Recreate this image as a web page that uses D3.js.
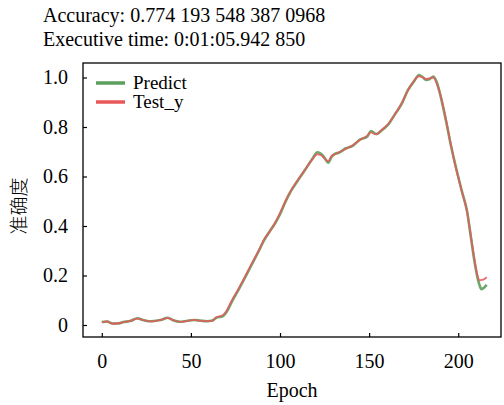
<!DOCTYPE html>
<html>
<head>
<meta charset="utf-8">
<script src="https://cdn.jsdelivr.net/npm/d3@7"></script>
<style>
    body { margin: 0; background: #fff; }
    #chart { width: 504px; height: 405px; }
</style>
</head>
<body>
<div id="chart"></div>
<script>

// data
let epochs = [0, 3, 6, 9, 12, 16, 20, 23, 27, 30, 33, 37, 40, 44, 48, 52, 55, 59, 62, 64, 68, 70, 73, 77, 81, 85, 88, 91, 94, 97,
    100, 103, 106, 110, 114, 118, 121, 123, 125, 127, 129, 131, 133, 137, 141, 145, 149, 151, 154, 157, 161, 164, 168, 172, 175, 178,
    180, 182, 184, 186, 188, 190, 193, 196, 199, 202, 205, 207, 209, 211, 212, 213, 214, 216];

let testY = [0.010, 0.015, 0.005, 0.007, 0.011, 0.017, 0.026, 0.021, 0.015, 0.016, 0.021, 0.028, 0.020, 0.013, 0.016, 0.021, 0.017, 0.016, 0.017, 0.030,
    0.040, 0.058, 0.100, 0.150, 0.205, 0.260, 0.300, 0.345, 0.375, 0.410, 0.452, 0.500, 0.542, 0.586, 0.627, 0.668, 0.690, 0.686, 0.672, 0.662,
    0.684, 0.690, 0.698, 0.712, 0.727, 0.748, 0.765, 0.778, 0.770, 0.788, 0.815, 0.845, 0.893, 0.950, 0.985, 1.005, 1.000, 0.994, 0.996, 1.000,
    0.975, 0.930, 0.835, 0.725, 0.625, 0.540, 0.455, 0.365, 0.270, 0.195, 0.180, 0.182, 0.183, 0.193];

let predict = [0.012, 0.014, 0.006, 0.006, 0.012, 0.016, 0.027, 0.020, 0.015, 0.017, 0.020, 0.029, 0.019, 0.013, 0.017, 0.020, 0.018, 0.015, 0.018, 0.028,
    0.036, 0.052, 0.094, 0.146, 0.200, 0.256, 0.298, 0.342, 0.376, 0.408, 0.448, 0.497, 0.540, 0.584, 0.626, 0.670, 0.698, 0.692, 0.676, 0.656,
    0.680, 0.692, 0.696, 0.714, 0.725, 0.750, 0.762, 0.784, 0.772, 0.786, 0.812, 0.846, 0.890, 0.952, 0.982, 1.010, 1.002, 0.990, 0.994, 1.004,
    0.980, 0.928, 0.830, 0.722, 0.628, 0.542, 0.458, 0.360, 0.262, 0.185, 0.160, 0.145, 0.148, 0.162];

let yTicks = [0, 0.2, 0.4, 0.6, 0.8, 1.0];
let yTickLabels = ["0", "0.2", "0.4", "0.6", "0.8", "1.0"];
let xTicks = [0, 50, 100, 150, 200];

let titleLines = ["Accuracy: 0.774 193 548 387 0968", "Executive time: 0:01:05.942 850"];
let seriesNames = ["Predict", "Test_y"];
let seriesColors = ["#5c9e5c", "#e8585a"];

const SERIF = "'Liberation Serif', 'Times New Roman', serif";


class AccVis {

    constructor(parentElement) {
        this.parentElement = parentElement;
        this.initVis();
    }

    initVis() {
        let vis = this;

        vis.margin = {top: 63, right: 3, bottom: 68, left: 83};
        vis.width = 504 - vis.margin.left - vis.margin.right;
        vis.height = 405 - vis.margin.top - vis.margin.bottom;

        vis.root = d3.select("#" + vis.parentElement).append("svg")
            .attr("width", 504)
            .attr("height", 405);

        vis.svg = vis.root.append("g")
            .attr("transform", `translate(${vis.margin.left}, ${vis.margin.top})`);

        // title block
        vis.root.append("g")
            .selectAll("text")
            .data(titleLines)
            .enter()
            .append("text")
            .attr("x", 43)
            .attr("y", (d, i) => 21.5 + i * 24)
            .style("font-family", SERIF)
            .style("font-size", "20px")
            .text(d => d);

        vis.xScale = d3.scaleLinear()
            .domain([-10.55, 224])
            .range([0, vis.width]);

        vis.yScale = d3.scaleLinear()
            .domain([-0.0485, 1.0586])
            .range([vis.height, 0]);

        vis.xAxis = d3.axisBottom(vis.xScale)
            .tickValues(xTicks)
            .tickSizeInner(-4)
            .tickSizeOuter(0)
            .tickPadding(17);

        vis.yAxis = d3.axisLeft(vis.yScale)
            .tickValues(yTicks)
            .tickFormat((d, i) => yTickLabels[i])
            .tickSizeInner(-4)
            .tickSizeOuter(0)
            .tickPadding(15);

        vis.svg.append("g")
            .attr("class", "x-axis axis")
            .attr("transform", "translate(0," + vis.height + ")")
            .call(vis.xAxis);

        vis.svg.append("g")
            .attr("class", "y-axis axis")
            .call(vis.yAxis);

        vis.svg.selectAll(".axis path").remove();
        vis.svg.selectAll(".axis line").attr("stroke", "#000").attr("stroke-width", 1.2);
        vis.svg.selectAll(".axis")
            .attr("font-family", null)
            .attr("font-size", null);
        vis.svg.selectAll(".axis text")
            .style("font-family", SERIF)
            .style("font-size", "20px");

        // frame
        vis.svg.append("rect")
            .attr("width", vis.width)
            .attr("height", vis.height)
            .attr("fill", "none")
            .attr("stroke", "#000")
            .attr("stroke-width", 1.3);

        // axis titles
        vis.root.append("text")
            .attr("x", vis.margin.left + vis.width / 2)
            .attr("y", 397)
            .attr("text-anchor", "middle")
            .style("font-family", SERIF)
            .style("font-size", "20px")
            .text("Epoch");

        vis.root.append("text")
            .attr("transform", "translate(26, 206) rotate(-90)")
            .attr("text-anchor", "middle")
            .style("font-family", "'Noto Sans CJK SC', sans-serif")
            .style("font-size", "19px")
            .style("font-weight", 300)
            .text("准确度");

        // legend
        vis.legend = vis.root.append("g")
            .selectAll("g")
            .data(seriesNames)
            .enter()
            .append("g")
            .attr("transform", (d, i) => `translate(96, ${83 + i * 19})`);

        vis.legend.append("line")
            .attr("x1", 0)
            .attr("x2", 29)
            .attr("stroke", (d, i) => seriesColors[i])
            .attr("stroke-width", 3.5);

        vis.legend.append("text")
            .attr("x", 37)
            .attr("y", 5.5)
            .style("font-family", SERIF)
            .style("font-size", "19px")
            .text(d => d);

        this.wrangleData();
    }

    wrangleData() {
        let vis = this;

        vis.series = [
            epochs.map((e, i) => ({epoch: e, value: predict[i]})),
            epochs.map((e, i) => ({epoch: e, value: testY[i]}))
        ];

        vis.updateVis();
    }

    updateVis() {
        let vis = this;

        vis.line = d3.line()
            .x(d => vis.xScale(d.epoch))
            .y(d => vis.yScale(d.value))
            .curve(d3.curveMonotoneX);

        vis.svg.selectAll(".series")
            .data(vis.series)
            .enter()
            .append("path")
            .attr("class", "series")
            .attr("d", d => vis.line(d))
            .attr("fill", "none")
            .attr("stroke", (d, i) => seriesColors[i])
            .attr("stroke-width", (d, i) => i === 0 ? 2.6 : 1.8)
            .attr("stroke-opacity", (d, i) => i === 0 ? 0.9 : 0.85)
            .attr("stroke-linejoin", "round");
    }
}

new AccVis("chart");

</script>
</body>
</html>
